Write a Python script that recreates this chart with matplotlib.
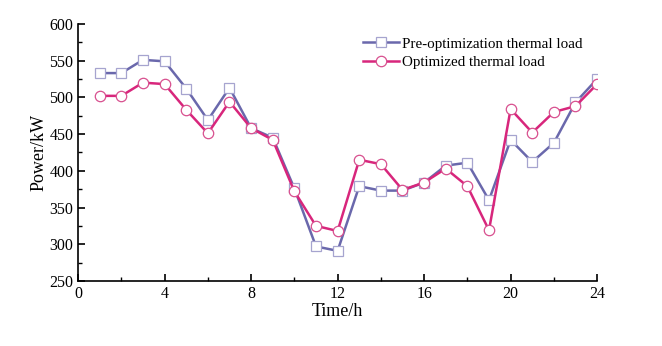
import matplotlib.pyplot as plt
from matplotlib.ticker import MultipleLocator

# 数据
hours = list(range(1, 25))
pre_load = [533, 533, 551, 549, 512, 469, 513, 458, 445, 376, 297, 291,
            379, 373, 373, 384, 407, 411, 360, 442, 412, 438, 493, 525]
opt_load = [502, 502, 520, 518, 483, 451, 494, 458, 442, 372, 325, 318,
            415, 409, 374, 384, 403, 379, 319, 484, 452, 480, 488, 518]

plt.rcParams['font.family'] = ['Liberation Serif', 'DejaVu Serif']

fig = plt.figure(figsize=(6.62, 3.46), dpi=100)
ax = fig.add_axes([0.118, 0.188, 0.784, 0.743])

ax.plot(hours, pre_load, color='#6a68ac', lw=1.8, marker='s', ms=6.5,
        mfc='white', mec='#a6a4cf', mew=0.9,
        label='Pre-optimization thermal load')
ax.plot(hours, opt_load, color='#d8267c', lw=1.8, marker='o', ms=7.5,
        mfc='white', mec='#d8508f', mew=0.9,
        label='Optimized thermal load')

ax.set_xlim(0, 24)
ax.set_ylim(250, 600)
ax.xaxis.set_major_locator(MultipleLocator(4))
ax.xaxis.set_minor_locator(MultipleLocator(2))
ax.yaxis.set_major_locator(MultipleLocator(50))
ax.yaxis.set_minor_locator(MultipleLocator(25))
ax.tick_params(which='major', direction='in', length=5, width=1.2, labelsize=11.5)
ax.tick_params(which='minor', direction='in', length=3, width=1.0)
for side in ['top', 'right']:
    ax.spines[side].set_visible(False)
for side in ['left', 'bottom']:
    ax.spines[side].set_linewidth(1.2)

ax.set_xlabel('Time/h', fontsize=13, labelpad=1)
ax.set_ylabel('Power/kW', fontsize=13, labelpad=1)

ax.legend(loc='upper left', bbox_to_anchor=(0.537, 0.972), frameon=False,
          fontsize=10.8, handlelength=2.4, handletextpad=0.2,
          labelspacing=0.35, borderaxespad=0)

fig.savefig('out.png', dpi=100)
